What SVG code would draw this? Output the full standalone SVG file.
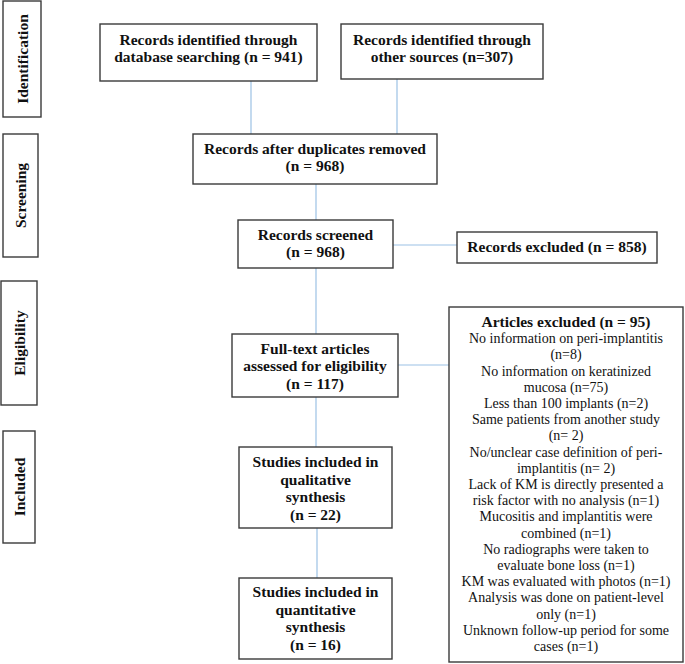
<svg xmlns="http://www.w3.org/2000/svg" width="685" height="664" viewBox="0 0 685 664">
<style>
.box{fill:#fff;stroke:#3a3a3a;stroke-width:1.4}
.t{font-family:"Liberation Serif","Times New Roman",serif;font-size:15.5px;font-weight:bold;fill:#111;text-anchor:middle}
.r{font-family:"Liberation Serif","Times New Roman",serif;font-size:14px;fill:#111;text-anchor:middle}
.side{font-family:"Liberation Serif","Times New Roman",serif;font-size:15.5px;font-weight:bold;fill:#111;text-anchor:middle;dominant-baseline:central}
.c{stroke:#9cc2e5;stroke-width:1.2;fill:none}
</style>
<rect width="685" height="664" fill="#fff"/>
<g id="connectors">
<line class="c" x1="251" y1="81" x2="251" y2="134"/>
<line class="c" x1="397" y1="79" x2="397" y2="134"/>
<line class="c" x1="316" y1="184" x2="316" y2="220"/>
<line class="c" x1="393" y1="245" x2="457" y2="245"/>
<line class="c" x1="316" y1="268" x2="316" y2="334"/>
<line class="c" x1="398" y1="365" x2="449" y2="365"/>
<line class="c" x1="316" y1="397" x2="316" y2="447"/>
<line class="c" x1="317" y1="528" x2="317" y2="578"/>
</g>
<g id="stage-identification">
<rect class="box" x="3" y="1" width="38" height="116"/>
<text class="side" transform="translate(22,59) rotate(-90)">Identification</text>
</g>
<g id="stage-screening">
<rect class="box" x="3" y="134" width="35" height="123"/>
<text class="side" transform="translate(20.5,195.5) rotate(-90)">Screening</text>
</g>
<g id="stage-eligibility">
<rect class="box" x="1" y="281" width="36" height="124"/>
<text class="side" transform="translate(19,343) rotate(-90)">Eligibility</text>
</g>
<g id="stage-included">
<rect class="box" x="3" y="431" width="32" height="112"/>
<text class="side" transform="translate(19,487) rotate(-90)">Included</text>
</g>
<g id="db-search">
<rect class="box" x="100" y="24" width="217" height="57"/>
<text class="t" x="208.5" y="45">Records identified through</text>
<text class="t" x="208.5" y="62">database searching (n = 941)</text>
</g>
<g id="other-sources">
<rect class="box" x="341" y="24" width="202" height="55"/>
<text class="t" x="442" y="45">Records identified through</text>
<text class="t" x="442" y="62">other sources (n=307)</text>
</g>
<g id="after-duplicates">
<rect class="box" x="193" y="134" width="244" height="50"/>
<text class="t" x="315" y="154">Records after duplicates removed</text>
<text class="t" x="315" y="171">(n = 968)</text>
</g>
<g id="screened">
<rect class="box" x="238" y="220" width="155" height="48"/>
<text class="t" x="315.5" y="240">Records screened</text>
<text class="t" x="315.5" y="257">(n = 968)</text>
</g>
<g id="records-excluded">
<rect class="box" x="457" y="232" width="200" height="31"/>
<text class="t" x="557" y="252">Records excluded (n = 858)</text>
</g>
<g id="full-text">
<rect class="box" x="232" y="334" width="166" height="63"/>
<text class="t" x="315" y="354">Full-text articles</text>
<text class="t" x="315" y="371">assessed for eligibility</text>
<text class="t" x="315" y="389">(n = 117)</text>
</g>
<g id="articles-excluded">
<rect class="box" x="449" y="307" width="234" height="355"/>
<text class="t" x="566" y="327">Articles excluded (n = 95)</text>
<text class="r" x="566" y="343.2">No information on peri-implantitis</text>
<text class="r" x="566" y="359.4">(n=8)</text>
<text class="r" x="566" y="375.6">No information on keratinized</text>
<text class="r" x="566" y="391.8">mucosa (n=75)</text>
<text class="r" x="566" y="408">Less than 100 implants (n=2)</text>
<text class="r" x="566" y="424.2">Same patients from another study</text>
<text class="r" x="566" y="440.4">(n= 2)</text>
<text class="r" x="566" y="456.6">No/unclear case definition of peri-</text>
<text class="r" x="566" y="472.8">implantitis (n= 2)</text>
<text class="r" x="566" y="489">Lack of KM is directly presented a</text>
<text class="r" x="566" y="505.2">risk factor with no analysis (n=1)</text>
<text class="r" x="566" y="521.4">Mucositis and implantitis were</text>
<text class="r" x="566" y="537.6">combined (n=1)</text>
<text class="r" x="566" y="553.8">No radiographs were taken to</text>
<text class="r" x="566" y="570">evaluate bone loss (n=1)</text>
<text class="r" x="566" y="586.2">KM was evaluated with photos (n=1)</text>
<text class="r" x="566" y="602.4">Analysis was done on patient-level</text>
<text class="r" x="566" y="618.6">only (n=1)</text>
<text class="r" x="566" y="634.8">Unknown follow-up period for some</text>
<text class="r" x="566" y="651">cases (n=1)</text>
</g>
<g id="qualitative">
<rect class="box" x="239" y="447" width="153" height="81"/>
<text class="t" x="315.5" y="467">Studies included in</text>
<text class="t" x="315.5" y="484.5">qualitative</text>
<text class="t" x="315.5" y="502">synthesis</text>
<text class="t" x="315.5" y="519.5">(n = 22)</text>
</g>
<g id="quantitative">
<rect class="box" x="239" y="578" width="153" height="81"/>
<text class="t" x="315.5" y="597">Studies included in</text>
<text class="t" x="315.5" y="614.5">quantitative</text>
<text class="t" x="315.5" y="632">synthesis</text>
<text class="t" x="315.5" y="649.5">(n = 16)</text>
</g>
</svg>
